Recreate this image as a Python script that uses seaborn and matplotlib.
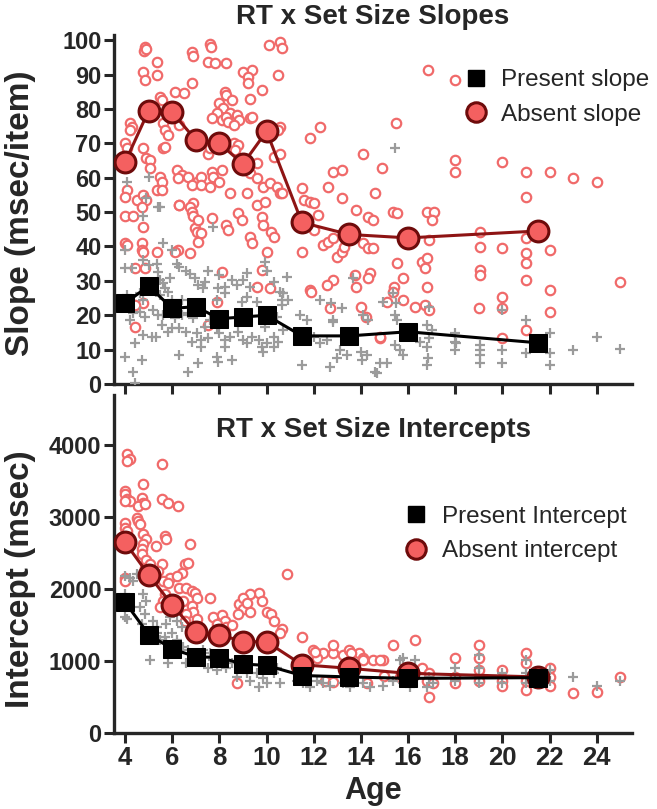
import numpy as np
import pandas as pd
import matplotlib
matplotlib.use('Agg')
import matplotlib.pyplot as plt
from matplotlib.lines import Line2D
import seaborn as sns

# Group means (age bins)
mean_ages = [4, 5, 6, 7, 8, 9, 10, 11.5, 13.5, 16, 21.5]
slope_present_mean = [23.5, 28.5, 22, 22.5, 19, 19.5, 20, 14, 14, 15.2, 12]
slope_absent_mean = [64.5, 79.5, 79, 71, 70, 64, 73.5, 47, 43.5, 42.5, 44.5]
icpt_present_mean = [1820, 1370, 1170, 1060, 1050, 960, 940, 800, 780, 760, 770]
icpt_absent_mean = [2650, 2200, 1780, 1400, 1370, 1270, 1270, 950, 900, 830, 780]

# Individual subjects: (age, slope) for target-absent trials
slope_absent_pts = [
    (4.85, 98), (4.8, 97), (4.9, 97.5), (5.35, 93.6), (4.75, 90.7), (4.85, 88.4), (5.35, 89.8),
    (6.85, 96.5), (6.9, 95.5), (7.6, 99), (7.65, 98), (7.5, 93.6), (7.8, 93.4), (8.3, 93.4),
    (10.1, 98.5), (10.55, 99.4), (10.65, 97.7), (9.0, 90.7), (9.4, 91.3), (9.2, 89.2), (9.2, 87.5),
    (10.5, 89.8), (6.85, 87.5), (6.1, 85), (6.5, 84.6), (8.25, 85), (8.3, 84), (8.55, 82.5),
    (9.8, 85.5), (9.3, 83), (5.5, 83.4), (5.55, 82.5), (8.0, 81.7), (8.15, 80.2), (7.9, 78.8),
    (8.45, 78.8), (8.75, 78.2), (8.85, 76.7), (9.3, 77.3), (9.4, 77.6), (4.2, 76), (4.3, 74.7),
    (4.2, 73.8), (5.6, 75.9), (5.7, 73.8), (5.8, 72.4), (6.3, 75.3), (7.7, 77.3), (8.1, 76.7),
    (8.3, 77.6), (8.35, 76.2), (8.6, 75.3), (8.6, 70), (8.8, 69.5), (8.65, 68), (7.5, 67),
    (7.6, 68.6), (4.0, 70), (4.1, 68.6), (4.75, 68.6), (4.9, 65.7), (5.05, 65.1), (5.05, 62.8),
    (5.6, 68.6), (5.7, 69), (10.55, 74.7), (10.5, 73.8), (9.6, 64.2), (10.3, 66), (10.55, 67),
    (6.2, 62.2), (6.4, 60.8), (6.25, 59.9), (6.65, 60.2), (7.05, 58.7), (7.2, 60.2), (6.85, 57.8),
    (7.2, 57.8), (7.7, 61.6), (8.1, 62.2), (7.75, 60.2), (8.0, 58.7), (7.6, 57.3), (5.5, 60.2),
    (5.55, 58.7), (5.35, 56.4), (5.55, 56.4), (9.3, 61.3), (9.6, 59.9), (9.85, 57.3), (10.15, 58.4),
    (10.45, 57.3), (10.55, 55.5), (8.45, 55.5), (9.15, 55.5), (4.1, 56.4), (4.0, 54.4), (4.5, 53.5),
    (4.75, 55), (4.9, 53.5), (4.7, 51.5), (6.3, 52), (6.9, 52.6), (4.0, 49), (4.35, 49),
    (4.75, 45.6), (4.0, 41), (4.1, 40.4), (4.7, 41), (4.7, 39), (4.75, 38.4), (5.35, 38.4),
    (4.85, 33.7), (4.75, 23.5), (4.4, 16.6), (6.3, 52), (6.75, 51.5), (6.85, 50), (6.9, 49),
    (6.95, 45.3), (7.05, 44.2), (7.2, 43.9), (7.1, 41.3), (7.1, 47.7), (6.25, 39), (6.75, 38),
    (7.7, 48.2), (8.3, 46.2), (8.35, 44.8), (8.8, 49.7), (8.95, 47.7), (9.3, 42.7), (9.4, 41),
    (9.6, 52), (9.95, 53), (9.8, 48.5), (9.85, 46.2), (10.2, 44.2), (10.3, 42.7), (10.0, 38.4),
    (8.1, 32.6), (9.8, 33.1), (9.6, 28.2), (10.15, 27.9), (7.9, 23.8), (7.5, 17.2), (4.4, 33.7),
    (4.4, 23), (6.1, 38.4), (11.85, 27.3), (16.85, 91.3), (18.0, 88.4), (12.25, 74.7),
    (11.85, 71.5), (15.5, 75.9), (14.1, 67), (12.8, 61.6), (13.2, 62.2), (14.9, 62.8),
    (10.65, 55.5), (11.5, 57), (11.6, 53.5), (11.85, 52.9), (12.0, 52.6), (12.2, 49.1),
    (12.0, 44.8), (12.6, 57.3), (13.2, 54), (14.6, 55.5), (13.8, 50.6), (14.3, 48.5), (14.5, 47.7),
    (15.35, 50), (15.55, 49.7), (16.8, 50), (17.1, 50), (17.0, 47.7), (16.9, 41.9), (11.5, 38.4),
    (12.4, 40.4), (12.6, 41.3), (12.8, 42.4), (13.0, 36.9), (13.2, 38.4), (13.3, 39.8),
    (14.1, 41), (14.3, 39.5), (14.5, 39.5), (15.55, 35.2), (16.6, 35.5), (16.7, 33.7),
    (16.8, 36.6), (16.8, 28.2), (13.75, 31.7), (14.4, 32.3), (14.3, 30.8), (13.8, 28.2),
    (15.8, 30.8), (15.4, 28.2), (15.35, 26.7), (15.8, 24.4), (15.1, 23.8), (16.3, 22.4),
    (16.7, 23), (16.9, 21.5), (12.8, 30.2), (12.55, 28.8), (11.9, 26.7), (14, 22.4), (14.2, 19.5),
    (12.7, 22.1), (14.8, 13.4), (21.0, 54.4), (19.05, 44.2), (19.05, 39.8), (20, 39.5), (21, 42.4),
    (21, 38), (21, 35.2), (21, 30.2), (22, 39), (19.05, 33.1), (19.05, 31.7), (22, 27.3),
    (22, 20.9), (20, 25.3), (20, 22.1), (19, 22.1), (21, 15.7), (20, 13.4), (25, 29.7),
    (14.8, 13.7), (18.0, 65.1), (18.0, 61.6), (20, 64.5), (21, 61.6), (22, 61.6), (23, 59.9),
    (24, 58.7),
]

# Individual subjects: (age, slope) for target-present trials
slope_present_pts = [
    (4.1, 58.7), (5.0, 60.2), (4.9, 54), (5.4, 51.5), (4.75, 49), (5.5, 51.5), (7.75, 45.6),
    (5.6, 41), (4.0, 33.7), (4.0, 39), (6.0, 39), (4.3, 33.7), (4.75, 36), (5.0, 34.6),
    (5.35, 35), (5.4, 32.6), (6.2, 35), (6.3, 34), (6.6, 33), (6.75, 32), (5.9, 30.8), (5.6, 29.4),
    (5.5, 30.2), (5.7, 27.9), (5.3, 26.7), (5.5, 25.9), (5.8, 26.7), (7.5, 33), (6.95, 30.8),
    (7.1, 28.8), (7.4, 29.7), (7.3, 27.9), (8.0, 31.7), (8.25, 28.2), (7.95, 27.9), (8.25, 26.5),
    (8.55, 30.2), (8.75, 28.8), (9.0, 30.2), (9.15, 32.3), (9.3, 28.2), (9.95, 35.5), (10.0, 33),
    (10.3, 29.7), (10.55, 26.7), (10.7, 26.5), (4.35, 20.6), (4.2, 18.6), (4.65, 21), (4.85, 19.5),
    (5.2, 21.5), (5.4, 20), (5.6, 20), (5.55, 17.2), (5.15, 13.7), (4.75, 14.2), (5.3, 13.7),
    (5.8, 15.1), (6.0, 16.3), (6.3, 16.3), (6.1, 19.2), (6.4, 20), (6.65, 20.6), (6.9, 19.2),
    (6.6, 15.1), (7.05, 14.8), (7.2, 12.8), (6.85, 12.2), (7.2, 10.8), (7.5, 13.4), (7.4, 16.6),
    (7.6, 18.6), (7.9, 16.6), (8.0, 14.8), (8.25, 12.8), (8.25, 10.8), (8.45, 13.7), (8.8, 15.1),
    (9.0, 12.8), (9.15, 11.9), (9.4, 13.7), (9.7, 12.8), (9.8, 10.8), (9.85, 9.3), (10.0, 11.9),
    (10.3, 10.8), (10.3, 13.7), (10.5, 12.2), (10.7, 15.7), (9.95, 16.6), (10.15, 18.6),
    (10.45, 19.5), (4.0, 7.8), (4.35, 3.5), (4.4, 0.3), (4.7, 7), (4.4, 11.9), (6.3, 8.4),
    (6.65, 3.5), (7.1, 6.1), (7.9, 7.8), (7.95, 6.4), (8.55, 7), (4.0, 24.4), (4.1, 25.9),
    (4.65, 26.5), (5.0, 27.3), (4.75, 24.4), (6.0, 24.4), (6.4, 24.4), (7.9, 24.4), (8.95, 23.8),
    (9.15, 25.3), (9.6, 23.8), (10.65, 24.4), (15.45, 68.6), (10.85, 31.1), (10.7, 26.5),
    (10.9, 24.4), (10.65, 23), (11.4, 20), (11.7, 18.6), (12.25, 24.4), (12.75, 23.5),
    (13.2, 22.1), (12.8, 18), (13.65, 30.8), (14.1, 20), (14.3, 18.6), (14.95, 23.8),
    (15.35, 26.5), (15.5, 23.5), (15.45, 20), (15.55, 18.6), (16.9, 22.4), (16.8, 17.2),
    (17.0, 15.7), (18.05, 11.9), (18.0, 9.9), (12.0, 13.7), (12.25, 11.9), (12.55, 12.8),
    (13.1, 9.9), (13.4, 8.4), (13.0, 7.6), (11.5, 5.5), (12.7, 4.9), (14, 9.3), (14.25, 8.4),
    (14.05, 7), (14.7, 3.2), (14.8, 6.1), (15.1, 6.1), (15.45, 11.3), (15.65, 9.9), (15.8, 8.4),
    (16.8, 10.8), (16.85, 7.6), (16.8, 5.5), (16.5, 12.2), (16.9, 13.4), (18.0, 14.8),
    (18.0, 12.2), (19.05, 11.3), (19.05, 9.9), (19.05, 8.4), (19.05, 6.1), (20, 9.9), (20, 6.1),
    (20, 21.5), (21, 18.6), (21, 9), (22, 14.8), (22, 9), (22, 5.5), (23, 9.9), (24, 13.7),
    (25, 10.2), (14.6, 3.5), (12.8, 18.6),
]

# Individual subjects: (age, intercept) for target-absent trials
icpt_absent_pts = [
    (4.1, 3880), (4.2, 3810), (4.1, 3780), (5.55, 3740), (4.75, 3460), (4.0, 3365), (4.0, 3320),
    (4.1, 3255), (4.2, 3225), (4.0, 3225), (4.7, 3270), (4.75, 3200), (4.55, 3160), (4.85, 3185),
    (5.55, 3255), (5.8, 3200), (6.25, 3160), (4.5, 2990), (4.55, 2950), (4.65, 2910), (4.0, 2920),
    (4.0, 2850), (4.1, 2810), (4.75, 2770), (4.9, 2700), (4.75, 2630), (4.7, 2560), (5.7, 2740),
    (5.75, 2700), (5.3, 2600), (6.75, 2630), (4.0, 2160), (4.0, 2120), (4.7, 2490), (4.9, 2400),
    (4.85, 2300), (5.05, 2350), (5.55, 2350), (5.4, 2260), (5.9, 2160), (5.6, 2120), (5.8, 2080),
    (6.55, 2350), (6.65, 2370), (6.4, 2230), (6.2, 2190), (6.3, 2020), (6.6, 2010), (6.85, 1980),
    (6.95, 1950), (7.05, 1880), (10.85, 2210), (7.6, 1880), (5.7, 1940), (5.6, 1840), (5.9, 1800),
    (5.5, 1750), (6.0, 1700), (6.45, 1840), (6.85, 1770), (6.9, 1680), (6.6, 1660), (7.05, 1590),
    (6.55, 1560), (7.75, 1610), (8.1, 1640), (8.25, 1560), (7.9, 1520), (8.3, 1470), (8.55, 1500),
    (8.85, 1800), (9.0, 1730), (9.3, 1680), (8.8, 1660), (9.7, 1950), (9.8, 1840), (10.0, 1680),
    (10.2, 1660), (10.3, 1560), (10.65, 1450), (10.55, 1390), (8.75, 690), (11.5, 1330),
    (11.95, 1150), (12.4, 1110), (12.15, 1050), (12.8, 1110), (13.25, 1080), (13.5, 1150),
    (13.9, 1110), (14.1, 1040), (14.95, 1010), (14.5, 1010), (15.35, 1220), (16.3, 1290),
    (9.3, 1940), (9.0, 1880), (9.15, 1810), (12.8, 1220), (12.05, 1120), (13.6, 1110),
    (14.1, 1010), (14.8, 1010), (18, 1040), (19.0, 1220), (19.0, 1050), (19.0, 870), (19.0, 730),
    (18, 780), (18, 690), (20, 870), (20, 730), (20, 660), (21, 1110), (21, 970), (21, 730),
    (21, 600), (22, 900), (22, 780), (22, 660), (23, 550), (24, 570), (25, 780), (16.9, 500),
    (16.6, 900), (16.9, 830), (16.8, 730), (17.05, 690), (15.0, 800), (15.65, 780), (12.5, 730),
    (12.8, 710), (14.25, 690),
]

# Individual subjects: (age, intercept) for target-present trials
icpt_present_pts = [
    (4.0, 2190), (4.2, 2160), (4.0, 1940), (4.2, 1880), (4.0, 1610), (4.1, 1590), (4.75, 1940),
    (4.9, 1840), (4.65, 1750), (4.85, 1660), (5.2, 1560), (5.35, 1470), (4.7, 1520), (5.05, 1010),
    (5.8, 980), (5.35, 1390), (5.5, 1290), (5.7, 1330), (5.75, 1250), (6.0, 1390), (6.2, 1290),
    (6.45, 1190), (6.3, 1110), (6.65, 1150), (6.85, 1050), (6.6, 970), (7.05, 1010), (7.3, 1150),
    (7.6, 1110), (7.75, 1010), (8.0, 970), (7.5, 910), (8.3, 910), (7.9, 870), (8.55, 970),
    (8.85, 900), (9.15, 830), (8.75, 780), (9.3, 730), (9.6, 830), (9.85, 760), (10.0, 690),
    (9.7, 640), (10.3, 830), (10.55, 690), (10.45, 910), (6.2, 1560), (6.4, 1470), (5.9, 1610),
    (5.75, 1520), (7.05, 1470), (4.5, 2210), (4.35, 2120), (11.3, 730), (11.55, 690),
    (11.85, 640), (12.15, 730), (12.4, 690), (12.7, 660), (13.25, 690), (13.55, 640), (14.1, 690),
    (14.4, 640), (14.95, 660), (15.35, 730), (15.8, 690), (16.1, 640), (15.65, 1010), (15.8, 1050),
    (16.3, 1010), (19, 1080), (18, 910), (18, 730), (19, 910), (19, 800), (19, 690), (20, 830),
    (20, 690), (21, 1010), (21, 830), (21, 690), (22, 870), (22, 730), (23, 780), (24, 660),
    (25, 730), (16.9, 780), (17.05, 690), (16.8, 640),
]

x_ticks = list(range(4, 25, 2))
slope_ticks = list(range(0, 101, 10))
icpt_ticks = [0, 1000, 2000, 3000, 4000]

circle_edge = '#f06a6a'
plus_grey = '#9b9b9b'
mean_face = '#f46060'
mean_edge = '#6e0b0b'
mean_line = '#8e1414'

sns.set_style('ticks')
plt.rcParams['font.family'] = ['Liberation Sans', 'DejaVu Sans']

fig = plt.figure(figsize=(6.57, 8.09), dpi=100)
ax1 = fig.add_axes([0.1735, 0.5253, 0.7885, 0.4314])
ax2 = fig.add_axes([0.1735, 0.0939, 0.7885, 0.4178])


def draw_panel(ax, absent_pts, present_pts, abs_mean, pres_mean):
    a = pd.DataFrame(absent_pts, columns=['age', 'val'])
    p = pd.DataFrame(present_pts, columns=['age', 'val'])
    sns.scatterplot(data=a, x='age', y='val', ax=ax, marker='o', s=46,
                    facecolor='white', edgecolor=circle_edge, linewidth=1.6, zorder=2)
    sns.scatterplot(data=p, x='age', y='val', ax=ax, marker='+', s=45,
                    color=plus_grey, linewidth=1.6, zorder=3)
    sns.lineplot(x=mean_ages, y=abs_mean, ax=ax, color=mean_line, lw=2.2,
                 marker='o', markersize=15, markerfacecolor=mean_face,
                 markeredgecolor=mean_edge, markeredgewidth=2.2, zorder=5)
    sns.lineplot(x=mean_ages, y=pres_mean, ax=ax, color='black', lw=2.2,
                 marker='s', markersize=12.5, markerfacecolor='black',
                 markeredgecolor='black', zorder=6)
    handles = [
        Line2D([], [], linestyle='none', marker='s', markersize=12, color='black'),
        Line2D([], [], linestyle='none', marker='o', markersize=14, markerfacecolor=mean_face,
               markeredgecolor=mean_edge, markeredgewidth=2.2),
    ]
    return handles


h1 = draw_panel(ax1, slope_absent_pts, slope_present_pts, slope_absent_mean, slope_present_mean)
h2 = draw_panel(ax2, icpt_absent_pts, icpt_present_pts, icpt_absent_mean, icpt_present_mean)

for ax in (ax1, ax2):
    ax.set_xlim(3.53, 25.5)
    ax.set_xticks(x_ticks)
    for s in ('top', 'right'):
        ax.spines[s].set_visible(False)
    for s in ('left', 'bottom'):
        ax.spines[s].set_linewidth(2.4)
    ax.tick_params(width=2.2, length=7, pad=2)
    ax.tick_params(axis='y', labelsize=17)
    for lab in ax.get_yticklabels():
        lab.set_fontweight('bold')

leg_kw = dict(loc='center left', frameon=False, fontsize=17.5, handlelength=1.0,
              handletextpad=0.55, labelspacing=0.52, borderpad=0, borderaxespad=0)

ax1.set_ylim(0, 101.5)
ax1.set_yticks(slope_ticks)
ax1.set_xticklabels([])
ax1.set_xlabel('')
ax1.set_ylabel('Slope (msec/item)', fontsize=24, fontweight='bold')
ax1.yaxis.set_label_coords(-0.15, 0.49)
ax1.set_title('RT x Set Size Slopes', fontsize=20, fontweight='bold', pad=8)
ax1.legend(h1, ['Present slope', 'Absent slope'], bbox_to_anchor=(0.675, 0.821), **leg_kw)

ax2.set_ylim(0, 4700)
ax2.set_yticks(icpt_ticks)
ax2.set_xticklabels([str(t) for t in x_ticks], fontweight='bold', fontsize=18.5)
ax2.set_xlabel('Age', fontsize=22, fontweight='bold', labelpad=5)
ax2.set_ylabel('Intercept (msec)', fontsize=24, fontweight='bold')
ax2.yaxis.set_label_coords(-0.15, 0.455)
ax2.text(0.5, 0.896, 'RT x Set Size Intercepts', transform=ax2.transAxes,
         ha='center', va='center', fontsize=20, fontweight='bold')
ax2.legend(h2, ['Present Intercept', 'Absent intercept'], bbox_to_anchor=(0.56, 0.589), **leg_kw)

fig.savefig('out.png', dpi=100)
